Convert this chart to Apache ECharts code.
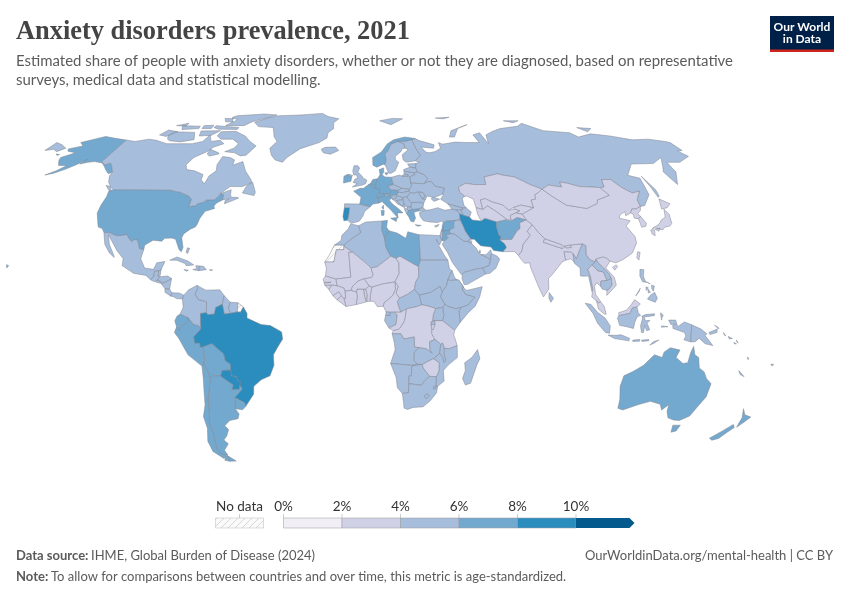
<!DOCTYPE html>
<html>
<head>
<meta charset="utf-8">
<script src="https://cdn.jsdelivr.net/npm/echarts@6/dist/echarts.min.js"></script>
<style>html,body{margin:0;padding:0;background:#fff}#chart{width:850px;height:600px}</style>
</head>
<body>
<div id="chart"></div>
<script>
// values (share of people, %)
const americasNames = ["United States","Canada","Greenland","Mexico","Guatemala","Belize","Honduras","El Salvador","Nicaragua","Costa Rica","Panama","Cuba","Haiti","Dominican Republic","Jamaica","Puerto Rico","Bahamas","Colombia","Venezuela","Guyana","Suriname","Ecuador","Peru","Bolivia","Brazil","Paraguay","Uruguay","Argentina","Chile"];
const americasValues = [6.9,5.4,5.0,4.6,4.6,4.5,4.6,4.5,4.6,4.6,4.5,4.7,4.6,4.8,4.4,5.0,4.5,5.0,5.2,4.5,4.5,6.2,6.3,6.1,8.8,8.3,6.8,6.5,6.4];
const europeNames = ["Portugal","Spain","France","Belgium","Netherlands","Germany","Switzerland","Austria","Italy","Denmark","United Kingdom","Ireland","Norway","Svalbard","Sweden","Finland","Iceland","Estonia","Latvia","Lithuania","Belarus","Poland","Czechia","Slovakia","Hungary","Slovenia","Croatia","Bosnia","Serbia","Montenegro","Albania","North Macedonia","Greece","Bulgaria","Romania","Moldova","Ukraine","Turkey","Cyprus","Russia"];
const europeValues = [8.6,5.5,7.1,6.3,7.0,6.8,6.5,6.2,6.2,6.4,5.9,6.6,7.4,5.0,5.6,5.2,5.5,4.8,4.6,4.6,4.5,4.8,4.7,4.7,4.7,4.8,4.9,5.1,5.0,5.0,5.0,5.1,6.3,4.8,4.6,4.6,4.8,5.5,5.8,4.9];
const asiaNames = ["Georgia","Armenia","Azerbaijan","Iran","Iraq","Syria","Lebanon","Israel","Jordan","Saudi Arabia","Kuwait","Qatar","UAE","Oman","Yemen","Afghanistan","Pakistan","India","Nepal","Bhutan","Bangladesh","Sri Lanka","China","Mongolia","Taiwan","Kazakhstan","Uzbekistan","Turkmenistan","Kyrgyzstan","Tajikistan","North Korea","South Korea","Japan","Myanmar","Thailand","Laos","Cambodia","Vietnam","Malaysia","Indonesia","Philippines","Papua New Guinea"];
const asiaValues = [4.7,4.8,4.5,8.9,5.6,6.4,6.3,5.9,6.1,5.4,5.2,5.1,5.2,5.3,5.2,6.8,3.7,3.4,3.6,3.6,3.9,4.2,3.1,3.4,3.8,3.9,3.7,3.8,3.6,3.7,3.3,3.7,3.2,4.4,3.9,4.2,4.3,3.6,3.9,4.2,4.3,4.4];
const africaNames = ["Morocco","Algeria","Tunisia","Libya","Egypt","Mauritania","Mali","Niger","Chad","Sudan","South Sudan","Eritrea","Ethiopia","Djibouti","Somalia","Kenya","Uganda","Rwanda","Burundi","Tanzania","Central African Republic","Cameroon","Nigeria","Benin","Togo","Ghana","Burkina Faso","Ivory Coast","Liberia","Sierra Leone","Guinea","Guinea-Bissau","Senegal","Gambia","Gabon","Equatorial Guinea","Congo","DR Congo","Angola","Zambia","Malawi","Mozambique","Zimbabwe","Namibia","Botswana","South Africa","Lesotho","Eswatini","Madagascar"];
const africaValues = [5.6,5.4,6.2,6.5,5.3,3.7,3.4,3.5,3.7,5.0,4.6,4.8,4.5,4.7,4.6,4.2,4.3,4.2,3.9,3.8,4.4,3.6,3.4,3.5,3.5,3.6,3.4,3.6,3.7,3.6,3.5,3.5,3.6,3.6,4.4,4.4,3.8,3.7,4.3,4.4,4.3,4.5,3.8,4.9,4.8,5.1,4.7,4.6,4.4];
const oceaniaNames = ["Australia","New Zealand","Solomon Islands","Vanuatu","New Caledonia","Fiji"];
const oceaniaValues = [7.2,7.3,4.4,4.4,4.9,4.4];

const legendTicks = [0,2,4,6,8,10];
const binColors = ["#f1eef6","#d0d1e6","#a6bddb","#74a9cf","#2b8cbe","#045a8d"];

// simplified country outlines, lon,lat
const shapes = {
"United States":["-124.7,48.4 -123,49 -95,49 -94.6,48.8 -92,48.3 -89.5,48 -84.5,46.5 -82.5,45.3 -82.5,42.5 -79,42.8 -79,43.5 -76.5,44 -75,45 -71.5,45 -70,46.5 -69,47.4 -67.8,47 -67.5,45 -70,43.7 -70.7,42.6 -70,41.7 -74,40.6 -75.5,38 -76,35.5 -76.5,34.6 -78.5,33.8 -81,32 -81.4,30.5 -80,26.8 -80.4,25.2 -81.5,25.9 -82.8,28 -84,30 -86,30.4 -89,30.3 -90,29.2 -94,29.6 -97.2,27.7 -97.2,26 -99.2,26.4 -101,29.7 -102.5,29.8 -103.3,29 -104.7,30 -106.5,31.8 -108.2,31.4 -111,31.3 -114.8,32.5 -117.1,32.5 -118.5,34 -120.6,34.6 -122,36.8 -124,40 -124.3,43 -124,46.2",
"-141,69.6 -141,60.3 -137.5,58.9 -135.5,59.7 -133.5,58.5 -130,55.9 -131.5,55.3 -134,56.5 -137,58.2 -140,59.7 -145,60.3 -148,60 -151.5,59.3 -150,61.2 -153,59 -156,57.2 -160,55.5 -163.5,54.8 -160,56.5 -157.5,58.7 -162,58.7 -165,60.8 -166,62 -161,64 -166.5,64.7 -168,65.7 -162,67 -166,68.5 -156.5,71.3 -150,70.5",
"-156,20.3 -155,19.9 -155.7,19","-171,63.5 -168.8,63.3 -169.5,62.9"],
"Canada":["-141,69.6 -135,69 -128,70 -123,69.5 -115,68 -108,68 -100,68 -95,69 -94,72 -90,69 -85,69.5 -81.5,68 -86,66.5 -88,64.5 -93,62 -94.5,59 -92.5,57 -88,56.5 -82.5,55 -82,52.8 -79.5,51.3 -79,54.5 -76.7,56.5 -78,59 -77.5,62.4 -73,62 -70,61 -69.5,58.8 -65,60.3 -61.5,56.5 -57,53 -56,51.8 -60,50.2 -66,50.2 -70,47.3 -65,49 -64.5,47 -63.7,46 -61,46 -60,45.7 -66,43.5 -66.2,44.7 -64.5,45.5 -67.5,45 -67.8,47 -69,47.4 -70,46.5 -71.5,45 -75,45 -76.5,44 -79,43.5 -79,42.8 -82.5,42.5 -82.5,45.3 -84.5,46.5 -89.5,48 -92,48.3 -94.6,48.8 -95,49 -123,49 -125,50 -128,52 -130,54.5 -130,55.9 -133.5,58.5 -135.5,59.7 -137.5,58.9 -141,60.3",
"-123.5,48.4 -125,48.8 -128,50.7 -125.5,50.2","-80,73.7 -72,71.5 -67,69 -62,67 -65,63 -68,62.7 -72,64 -78,64.5 -74,66 -73,68 -78,70 -85,70 -89,71.5 -89,73.5","-118,73.5 -105,73.2 -101,69.8 -108,68.8 -115,69.3 -117,70 -119,71.5","-125,72 -123,74.3 -116,73.5 -120,71.3","-90,76.5 -78,76.5 -75,78.5 -65,81.5 -62,82.5 -72,83.1 -90,82 -92,81 -88,78.5","-96,76.5 -80,75.5 -80,74.6 -92,74.7 -96,75.5","-118,76.5 -106,76.2 -105,75 -115,74.5","-104,76.5 -98,76.7 -97,75 -103,75","-122,76.5 -116,77.7 -115.5,76.3","-102,73.9 -90,74 -93,71.8 -100,71.5","-87,65.5 -81,64 -80.5,63.5 -85,62.6 -87,63.5","-96,80.3 -87,80 -87,78.5 -93,78.5","-59,47.7 -53,46.7 -52.8,48 -55.7,52 -58,50.5"],
"Greenland":["-73,78.2 -68,76 -58,75.5 -54,71 -51,69 -53.5,66 -51,63 -48,61 -43.5,60 -42,62 -36,65.8 -26,68.5 -22,70.5 -22,73 -19,75 -20,78 -17,80 -25,81.5 -30,83.5 -45,82.5 -60,82 -66,80.8"],
"Iceland":["-24,65.5 -22,66.4 -16,66.5 -14,65 -18.5,63.4 -22.5,64"],
"Mexico":["-117.1,32.5 -114.8,32.5 -111,31.3 -108.2,31.4 -106.5,31.8 -104.7,30 -103.3,29 -102.5,29.8 -101,29.7 -99.2,26.4 -97.2,26 -97.8,22.5 -95.5,19 -91.5,18.5 -90.5,21 -87,21.5 -88.2,18.4 -89.2,17.9 -91,17.8 -91,16 -92.2,14.5 -94.5,16.2 -100,17 -105.5,20 -105.5,22.5 -109,25.7 -112.5,29.5 -114.7,31.7 -113,28 -110,24 -109.5,23 -112,24.7 -115,28"],
"Guatemala":["-92.2,14.5 -91,16 -91,17.8 -89.2,17.9 -89.2,15.9 -88.3,15.7 -89.4,14.4 -90.5,13.8"],
"Belize":["-89.2,17.9 -88.2,18.4 -88.3,16.2 -89.2,15.9"],
"Honduras":["-88.3,15.7 -85,16 -83.2,15 -85,14 -87.5,13 -87.7,13.8 -89.4,14.4"],
"El Salvador":["-89.4,14.4 -87.7,13.8 -87.8,13.2 -90,13.7"],
"Nicaragua":["-87.5,13 -85,14 -83.2,15 -83.7,11 -85.7,11.1"],
"Costa Rica":["-85.7,11.1 -83.7,11 -82.6,9.6 -83,8.3 -85.6,9.8"],
"Panama":["-83,8.3 -82.6,9.6 -79.5,9.5 -77.4,8.7 -77.9,7.2 -80.5,7.4 -82,8.2"],
"Cuba":["-85,22 -82,23.2 -77,21.7 -74.2,20.2 -77.5,19.9 -78,20.7 -82,22"],
"Haiti":["-74.4,18.4 -71.7,18 -71.7,19.8 -73.3,19.9 -72.7,18.8"],
"Dominican Republic":["-71.7,18 -68.5,18.4 -69.9,19.7 -71.7,19.8"],
"Jamaica":["-78.3,18.4 -76.3,18.2 -77,17.8"],
"Puerto Rico":["-67.2,18.4 -65.7,18.3 -66.5,18"],
"Bahamas":["-78,26.7 -77,26.5 -77.5,24.5 -78.3,25"],
"Colombia":["-77.4,8.7 -75.5,10.7 -72,12.4 -71.5,11.5 -72.5,9 -71,7 -67.5,6.2 -67.5,2 -70,1.7 -69.9,-4.3 -70.8,-3 -73,-2.5 -75.3,0.1 -78.8,1.4 -77.5,4 -77.9,7.2"],
"Venezuela":["-72,12.4 -68,10.6 -62,10.7 -60,8.5 -60.7,5.2 -63.5,4 -64,1.5 -66.8,1.2 -67.5,2 -67.5,6.2 -71,7 -72.5,9 -71.5,11.5"],
"Guyana":["-60,8.5 -57.3,6 -58,3.5 -57,1.8 -59.8,1.5 -60.7,5.2"],
"Suriname":["-57.3,6 -54,5.8 -54.2,2.3 -57,1.8 -58,3.5"],
"French Guiana":["-54,5.8 -51.6,4.2 -52.8,2.2 -54.2,2.3"],
"Ecuador":["-78.8,1.4 -75.3,0.1 -75.5,-1.5 -78.3,-3.4 -79.3,-4.8 -80.3,-3.4 -81,-1 -80,0.8"],
"Peru":["-80.3,-3.4 -79.3,-4.8 -78.3,-3.4 -75.5,-1.5 -75.3,0.1 -73,-2.5 -70.8,-3 -69.9,-4.3 -73,-7 -72.8,-9.5 -70.5,-9.5 -70.5,-11 -69.5,-11 -69,-12.5 -69,-16 -69.5,-17.5 -70.4,-18.3 -76,-14 -79.5,-7.8 -81.3,-5.5"],
"Bolivia":["-69,-12.5 -69.5,-11 -65.4,-9.7 -60.5,-13.7 -60,-16.3 -58,-17.5 -58,-19.8 -61.8,-20 -62.7,-22.2 -66.3,-21.9 -67.2,-22.8 -68.5,-19.4 -69.5,-17.5 -69,-16"],
"Brazil":["-51.6,4.2 -50,1.7 -50,0 -44,-2.5 -40,-2.9 -35.2,-5.3 -34.8,-8 -37,-11 -39,-14 -39,-18 -41,-22 -45,-23.5 -48.5,-26 -49,-29 -53.4,-33.7 -53.5,-32.3 -57.6,-30.2 -53.8,-27 -54.6,-25.6 -54.3,-24 -55.4,-24 -55.8,-22.3 -58,-22 -58,-19.8 -58,-17.5 -60,-16.3 -60.5,-13.7 -65.4,-9.7 -69.5,-11 -70.5,-11 -70.5,-9.5 -72.8,-9.5 -73,-7 -69.9,-4.3 -70,1.7 -67.5,2 -66.8,1.2 -64,1.5 -63.5,4 -60.7,5.2 -59.8,1.5 -57,1.8 -54.2,2.3 -52.8,2.2"],
"Paraguay":["-58,-19.8 -58,-22 -55.8,-22.3 -55.4,-24 -54.3,-24 -54.6,-25.6 -55,-27.2 -58.5,-27.3 -57.6,-25.5 -60,-24 -62.7,-22.2 -61.8,-20"],
"Uruguay":["-57.6,-30.2 -53.5,-32.3 -53.4,-33.7 -55,-34.9 -58.3,-34.5"],
"Argentina":["-66.3,-21.9 -62.7,-22.2 -60,-24 -57.6,-25.5 -58.5,-27.3 -55,-27.2 -54.6,-25.6 -53.8,-27 -57.6,-30.2 -58.3,-34.5 -57,-36.5 -58,-38.3 -62,-39 -65,-41 -63.7,-42.5 -65.5,-45 -67.5,-46.5 -66,-48 -69,-50.5 -68.4,-52.3 -71.8,-52 -72.5,-50 -72,-47 -71.5,-44 -71.8,-40 -70.5,-36 -69.8,-31 -68.5,-27 -67.2,-22.8","-68.6,-52.7 -65.3,-54.8 -68.6,-54.9"],
"Chile":["-70.4,-18.3 -69.5,-17.5 -68.5,-19.4 -67.2,-22.8 -68.5,-27 -69.8,-31 -70.5,-36 -71.8,-40 -71.5,-44 -72,-47 -72.5,-50 -71.8,-52 -68.4,-52.3 -71,-53.8 -75,-51 -75.5,-47 -73.5,-42 -73.7,-37.5 -71.6,-33 -71,-29 -70.4,-23","-68.6,-52.7 -68.6,-54.9 -71,-54.5 -70,-53.3"],
"Portugal":["-9,42 -6.5,42 -6.9,38.5 -7.4,37.2 -9,37 -9.5,38.7"],
"Spain":["-9,43.5 -1.8,43.4 3.2,42.4 0.5,40.5 -0.3,38.7 -2,36.8 -5.5,36 -7.4,37.2 -6.9,38.5 -6.5,42 -9,42"],
"France":["-1.8,43.4 3.2,42.4 4.5,43.4 7.5,43.8 7,45.9 6,46.3 7.5,47.6 8.2,49 6.2,49.5 4.2,50 2.5,51 0,49.5 -1.7,49.5 -4.8,48.4 -1.2,46","8.6,42 9.5,43 9.4,41.4"],
"Belgium":["2.5,51 4.2,50 6.2,49.5 6,50.8 3.5,51.4"],
"Netherlands":["3.5,51.4 6,50.8 7.1,53.3 4.7,53"],
"Germany":["7.1,53.3 8.5,54.9 9.5,54.9 11,54 14.2,53.9 14.8,51 12.1,50.3 13.8,48.8 13,47.5 9.6,47.5 7.5,47.6 8.2,49 6.2,49.5 6,50.8"],
"Switzerland":["7,45.9 10.4,46.5 10.4,46.9 9.6,47.5 7.5,47.6 6,46.3"],
"Austria":["9.6,47.5 10.4,46.9 13,46.6 16.1,46.9 17,48 17,48.7 15,49 13.8,48.8 13,47.5"],
"Italy":["7.5,43.8 8.8,44.4 10.5,43 12.5,41.4 16,38 15.8,40 18.4,40 16.2,41.8 13.5,43.6 12.3,45 13.7,45.7 13,46.6 10.4,46.5 7,45.9","12.5,38 15.6,38.2 15,36.7","8.3,41 9.7,40.9 9.5,39.1 8.4,39"],
"Denmark":["8.5,54.9 9.5,54.9 10.5,56 10.6,57.7 8.2,57","11,55.7 12.6,55.7 11.9,54.7"],
"United Kingdom":["-5,58.6 -3,58.6 -2,57.6 -3,56 -1.5,55 0,53.5 1.7,52.7 1,51.3 -1,50.7 -5.5,50 -3.1,51.4 -5.2,51.8 -4.3,53.2 -3,53.5 -3.5,54.8 -5,54.8 -5.6,56.5","-7.3,55 -5.6,54.7 -6,54 -7.5,54.3"],
"Ireland":["-7.3,55 -7.5,54.3 -6,54 -6.3,52.3 -10,51.6 -10,54.3 -8.4,55"],
"Norway":["5,58.8 7,58 10.5,59.2 11.5,59 12.3,61 12,63.5 14,65 16,67.8 20.5,69 25,69 29,69.8 31,70.3 25,71 18,69.8 14,68 10,64.3 5,62"],
"Svalbard":["11,79 20,80.3 27,80 18,77"],
"Sweden":["11.5,59 13,55.5 14.3,55.5 16.5,56.5 19,60 17.3,61 17.5,62.5 21,64.5 22,65.8 24,66 23.5,68 20.5,69 16,67.8 14,65 12,63.5 12.3,61"],
"Finland":["24,66 25.3,65.3 21.5,63.2 21.5,61 23,60 28,60.6 31.5,62.9 29.8,66 29,69 29,69.8 25,69 20.5,69 23.5,68"],
"Estonia":["23.5,59.3 28,59.5 27.5,57.6 24.4,58"],
"Latvia":["21,57 24.4,58 27.5,57.6 28,56 26,55.7 21,56.3"],
"Lithuania":["21,56.3 26,55.7 26.5,55 23.5,54 22.8,54.9 21,55.2"],
"Belarus":["26,55.7 28,56 31,55 32.7,53.4 31,52 30.6,51.3 23.6,51.6 23.5,54 26.5,55"],
"Poland":["14.2,53.9 18.5,54.8 19.6,54.4 22.8,54.3 23.5,54 23.6,51.6 24,50.5 22.6,49.1 18.8,49.5 14.8,51"],
"Czechia":["12.1,50.3 14.8,51 18.8,49.5 17,48.7 15,49 13.8,48.8"],
"Slovakia":["17,48 17,48.7 18.8,49.5 22.6,49.1 22.2,48.4 18.8,47.8"],
"Hungary":["16.1,46.9 17,48 18.8,47.8 22.2,48.4 22.9,47.9 21,46.2 18.8,45.9 16.1,46.6"],
"Slovenia":["13.7,45.5 15.5,45.5 16.1,46.6 16.1,46.9 13,46.6 13.7,45.7"],
"Croatia":["13.7,45.3 14.8,44.7 16,43.5 18.5,42.5 17.7,43 15.8,44.8 19,45 18.8,45.9 16.1,46.6 15.5,45.5"],
"Bosnia":["15.8,44.8 17.7,43 18.5,42.5 19.3,43.5 19,45"],
"Serbia":["19,45 19.3,43.5 20,42.8 20.5,42.2 22.4,42.3 22.9,44 22,44.6 21,46.2 18.8,45.9"],
"Montenegro":["18.5,42.5 19.3,41.9 20,42.8 19.3,43.5"],
"Albania":["19.3,41.9 20.5,41.5 21,40.9 21,40.5 20,39.7 19.4,41"],
"North Macedonia":["20.5,41.5 20.5,42.2 22.4,42.3 23,41.3 21,40.9"],
"Greece":["20,39.7 21,40.5 21,40.9 23,41.3 26.3,41.7 26,40.8 23.5,40.2 24,38 23,36.5 21.7,36.8 21,38.4","23.6,35.5 26.3,35.2 24.7,34.9"],
"Bulgaria":["22.4,42.3 23,41.3 26.3,41.7 28,42 28.6,43.7 27,44.1 22.9,44"],
"Romania":["22.9,47.9 24.8,47.7 26.6,48.2 28.2,45.5 29.7,45.2 28.6,43.7 27,44.1 22.9,44 22,44.6 21,46.2"],
"Moldova":["26.6,48.2 29,47.9 30,46.4 28.2,45.5"],
"Ukraine":["23.6,51.6 30.6,51.3 31,52 34,52.3 35.5,50.4 40,49.6 38.3,47.2 35,46.2 33.7,46 36.5,45.3 33.7,44.4 32.5,45.4 33.3,46 30.8,46.5 29.7,45.2 28.2,45.5 30,46.4 29,47.9 26.6,48.2 24.8,47.7 22.9,47.9 22.2,48.4 22.6,49.1 24,50.5"],
"Turkey":["26,40.1 29,41 31.3,41.2 35,42 38,41 41.5,41.5 43.5,41.1 44.7,39.7 44.5,37.3 42.3,37.1 38,36.8 36.5,36.2 35.9,36.9 34,36.3 30.5,36.5 27.5,37 26.3,38.5","26.3,41.7 28,42 29,41.2 26.5,40.6 26,40.8"],
"Cyprus":["32.3,35 34.5,35.6 33.8,34.9 32.8,34.6"],
"Russia":["28,59.5 30,60 28,60.6 31.5,62.9 29.8,66 29,69 29,69.8 31,70.3 33,69.4 41,67.5 40,66 33,66.5 35,64.3 37,64 40.5,64.6 44,66 44,68.5 46,67.8 54,68.7 60,68.5 68,68.5 67,72 72,73 73,68 75,72 80,73.5 87,75 100,76.2 105,77.7 113,74 128,73 130,71 140,72.5 150,71.5 160,69.7 170,70 178,69 180,68.5 180,65 177,64.7 179,62.5 170,60 163,60 162,56 156.5,51 155.5,56 158,58 163,62 155,59.5 143,59.3 135.5,54.7 140.5,53.5 138.5,47 133,42.8 130.7,42.5 131,45 135,48.4 131,47.7 127.5,49.8 125,53 120.5,53 119,50 116.7,49.8 113,50 107,50.2 102,51.5 98.5,52 98,50 92,50.8 87.8,49.2 83,51 77,54 71,54.8 69,55.3 61.5,54 61,51 55,51 51,51.5 47,50 47,48 49,46.4 47.5,45.6 47.5,43 48.5,41.8 46.5,41.9 40,43.5 37,45.3 39,47.2 38.3,47.2 40,49.6 35.5,50.4 34,52.3 31,52 32.7,53.4 31,55 28,56 27.5,57.6","19.6,54.4 21,55.2 22.8,54.9 22.8,54.3","142,54.3 143.5,49 143,46.5 142,46 142,50","52,71 55,74 68,77 60,75 55,71","-180,68.5 -175,67.5 -170,66 -172.5,64.5 -176,65.5 -180,65","137,75.5 145,75 140,73.5","95,79 105,79 100,78","50,80.5 60,81 55,80"],
"Georgia":["40,43.5 46.5,41.9 46.5,41.2 45.5,41.2 43.5,41.1 41.5,41.5"],
"Armenia":["43.5,41.1 45.5,41.2 46.5,39 44.7,39.7"],
"Azerbaijan":["45.5,41.2 46.5,41.2 46.5,41.9 48.5,41.8 50.3,40.3 49,38.4 46.5,39"],
"Iran":["44.7,39.7 46.5,39 49,38.4 50,37.3 54,36.9 56,38 61,36.6 60.5,34.3 60.9,31.5 61.8,30.8 60.9,29.8 62.7,28.3 63.3,27.2 63.2,26.6 61.6,25.2 57.5,25.7 56.5,27 52,27.5 49.5,30 48,30 46,33 45.5,34.5 44.5,37.3"],
"Iraq":["42.3,37.1 44.5,37.3 45.5,34.5 46,33 48,30 47.5,30 46.5,29.1 44.7,29.2 41,31.9 39,32 38.8,33.4 41,34.4 41.3,36.5"],
"Syria":["36.5,36.2 38,36.8 42.3,37.1 41.3,36.5 41,34.4 38.8,33.4 36,32.7 35.8,33 36,33.5 36.5,34.6 35.9,34.6 35.8,35"],
"Lebanon":["35.1,33.1 35.8,33 36,33.5 36.5,34.6 35.9,34.6"],
"Israel":["34.3,31.3 35.1,33.1 35.8,33 35.5,31 35,29.5"],
"Jordan":["35.8,33 36,32.7 38.8,33.4 39,32 37,31.5 38,30.5 36,29.3 35,29.5 35.5,31"],
"Saudi Arabia":["35,28 36,29.3 38,30.5 37,31.5 39,32 41,31.9 44.7,29.2 46.5,29.1 48,28.5 50,26.5 50.8,24.8 51.6,24.2 55,22.7 55.7,22 55,20 52,19 49,18.6 44,17.4 43,16.7 42.5,16.5 39,21 37,25"],
"Kuwait":["46.5,29.1 47.5,30 48.3,29 48,28.5"],
"Qatar":["50.8,24.8 51.5,25.9 51.6,24.8"],
"UAE":["51.6,24.2 54,24.1 56.3,26 56.4,24.5 55.7,22 55,22.7"],
"Oman":["56.4,24.5 58.7,23.6 59.8,22.4 57.8,19 55,17 53,16.7 52,19 55,20 55.7,22"],
"Yemen":["43,16.7 44,17.4 49,18.6 52,19 53,16.7 45,12.8 43.5,12.7 42.7,15"],
"Afghanistan":["60.5,34.3 61,36.6 65,37.3 68,37 71,38.3 74.9,37.3 71.5,36.2 71,34 69.3,33 66.3,29.9 60.9,29.8 61.8,30.8 60.9,31.5"],
"Pakistan":["61.6,25.2 63.2,26.6 63.3,27.2 62.7,28.3 60.9,29.8 66.3,29.9 69.3,33 71,34 71.5,36.2 74.9,37.3 77,35.5 74,33 75,31.5 71,28 70,25.5 68.2,23.8 66.7,25.3"],
"India":["68.2,23.8 70,25.5 71,28 75,31.5 74,33 77,35.5 79,32.5 81,30.2 80.2,28.8 88.1,26.4 88.9,27.3 89.8,26.7 92,26.8 92,27.8 97.4,28.2 95,25 93.5,22.5 92.3,24.5 91.8,25 88.5,25.2 88.7,22 87,21.3 82,16.5 80.2,15 80,11 77.5,8 76,11 73,19 72.7,21 70.5,20.8 69,22.5"],
"Nepal":["81,30.2 88.1,27.9 88.1,26.4 80.2,28.8"],
"Bhutan":["88.9,27.3 92,27.8 92,26.8 89.8,26.7"],
"Bangladesh":["88.5,25.2 91.8,25 92.3,24.5 92.5,21 91,22.5 88.7,22"],
"Sri Lanka":["80,9.7 81.8,7.5 80.6,6 79.8,7.5"],
"China":["74.9,37.3 73.7,39.5 80,42 80.2,45 82.5,45.3 83,47 85.5,48 87.8,49.2 91,46.5 96,43 105,41.7 111,43.6 112,45 116,46 119,46.8 116.7,49.8 119,50 120.5,53 125,53 127.5,49.8 131,47.7 135,48.4 131,45 130.7,42.5 128,41.5 126,41.5 124.4,40 121.5,38.9 122,40.5 119,39.2 118,38 122.5,37 119.5,35 121.8,31 121.6,28.5 118.5,24.7 114,22.3 110.5,21 108,21.6 106.7,22.8 105.3,23.2 102,22.4 101.5,21.3 99.2,22.2 98,24.2 98.7,27.5 97.4,28.2 92,27.8 88.9,27.3 88.1,27.9 81,30.2 79,32.5 77,35.5","108.7,19.3 110.5,20.2 111,19.6 109.5,18.2"],
"Mongolia":["87.8,49.2 92,50.8 98,50 98.5,52 102,51.5 107,50.2 113,50 116.7,49.8 119,46.8 116,46 112,45 111,43.6 105,41.7 96,43 91,46.5"],
"Taiwan":["121,25.2 122,25 120.8,22 120.1,23"],
"Kazakhstan":["47,50 51,51.5 55,51 61,51 61.5,54 69,55.3 71,54.8 77,54 83,51 87.8,49.2 85.5,48 83,47 82.5,45.3 80.2,45 80,42 74.5,43 70.5,42 68,41 66,43 61,44.3 58.5,45.5 56,45 56,41.3 53,42 52.7,45.3 50,46.5 49,46.4 47,48"],
"Uzbekistan":["56,45 58.5,45.5 61,44.3 66,43 68,41 71,41.5 73.2,40.8 71,40 68,39 68,37.3 66,37.5 62,40.5 58.6,42.7 56,41.3"],
"Turkmenistan":["53,42 56,41.3 58.6,42.7 62,40.5 66,37.5 65,37.3 61,36.6 56,38 54,36.9 53,39.5"],
"Kyrgyzstan":["70.5,42 74.5,43 80,42 73.7,39.5 71,40 73.2,40.8 71,41.5"],
"Tajikistan":["68,39 71,40 73.7,39.5 74.9,37.3 71,38.3 68,37 68,37.3"],
"North Korea":["124.4,40 126,41.5 128,41.5 130.7,42.5 129.7,41 127.5,39.7 128.3,38.6 126.7,37.8 125,38 125.3,39.5"],
"South Korea":["126.7,37.8 128.3,38.6 129.4,36 128.5,34.9 126.4,34.5 126.6,36"],
"Japan":["130.9,34 135,35.7 137,37.3 139.5,38.4 141,41.4 142,39.5 141,36 139.5,35 136.8,34.5 135.5,33.5 132.5,34.3","140,41.5 141.8,45.4 145.5,43.5 143,42","130,33.5 131.8,33.6 131,31.3 130,32","132.2,33.8 134.6,34.2 133.5,33"],
"Myanmar":["92.3,20.8 92.5,21 92.3,24.5 93.5,22.5 95,25 97.4,28.2 98.7,27.5 98,24.2 99.2,22.2 101.5,21.3 100,20.3 97.8,18.5 98.5,16 99,11 98.5,10 97.7,16 95.5,15.9 94.2,16 94.5,19"],
"Thailand":["100,20.3 100.5,19.5 102,18 104.5,17.5 105.5,14.3 102.8,14 102.5,12 100.9,13.4 99.8,12 100,9 102,6.2 101,5.7 100.2,6.6 98.3,8 99,11 98.5,16 97.8,18.5"],
"Laos":["101.5,21.3 102,22.4 103,20.8 104.8,19 106.7,16.9 107.5,15 105.5,14.3 104.5,17.5 102,18 100.5,19.5 100,20.3"],
"Cambodia":["102.8,14 105.5,14.3 107.5,15 107.5,12.5 106,11 105,10.5 103,11 102.5,12"],
"Vietnam":["102,22.4 105.3,23.2 106.7,22.8 108,21.6 105.7,19 108.8,15.5 109.3,12.5 107,10.5 104.8,8.6 105,10.5 106,11 107.5,12.5 107.5,15 106.7,16.9 104.8,19 103,20.8"],
"Malaysia":["100.2,6.6 101,5.7 102,6.2 103.4,4.5 104.2,1.4 103.4,1.5 101,3.3","109.6,2 111.3,2.5 113,3 115,5 116.7,7 119,5.3 117.5,4.2 115.5,3.8 114.5,1.8 112,1.3 109.6,0.9"],
"Indonesia":["109.6,0.9 112,1.3 114.5,1.8 115.5,3.8 117.5,4.2 118,2 119,1 117.5,0.5 116.5,-1.5 116,-4 113,-3.3 110,-2.8 109,0","95.3,5.6 97.7,5.2 100.5,2.2 103.7,0 106,-3 105.8,-5.8 104,-5.5 100.5,-2 98.6,1.7","105.2,-6.5 108.5,-6.6 110.8,-6.4 114.5,-7.7 114.4,-8.7 108,-7.8","119.5,0.7 121,1.3 125,1.6 124.8,0.9 120.5,0.4 121,-1 123,-0.9 121.8,-2 123,-4.5 121.6,-4.8 120.8,-2.8 120.4,-5.5 119.5,-5.5 119,-3 119.8,0","116,-8.4 119,-8.2 119,-8.8 116,-8.9","119.8,-8.4 123,-8.2 122.8,-8.7 120,-8.9","123.5,-10.3 124.9,-9 127.2,-8.4 125.2,-9.6","128,-3 130.8,-3.3 128,-3.5","127.6,2 128.7,1 128,0 128,-0.8 127.6,1","131,-0.8 134,-0.8 135,-3.3 137.8,-1.5 141,-2.6 141,-9.1 138,-8.3 138.7,-6.8 138,-5.5 133,-4 132.8,-2.8 134,-2.3 132,-2.5"],
"Papua New Guinea":["141,-2.6 145,-4.2 147.7,-6 147,-6.7 150.7,-10.5 147.3,-9.8 144.5,-7.7 143,-9 141,-9.1","148.5,-5.5 152,-4.2 152,-5.5 149,-6.3","154.7,-5.5 155.9,-6.8 155.2,-6.5","150.8,-2.7 152.7,-3.8 152.5,-4.2"],
"Solomon Islands":["157,-7 158.8,-7.8 157.5,-8","159.6,-9.3 160.8,-9.8 160,-9.9","160.6,-8.4 161.5,-9.5 161,-9.2"],
"Vanuatu":["166.6,-14.8 167.2,-15.8 166.6,-15.6"],
"New Caledonia":["164,-20 167,-22.3 165,-21.5"],
"Fiji":["177.3,-17.5 178.6,-17.7 178,-18.3"],
"Philippines":["120.5,18.5 122.2,18.4 121.5,16 122,14 124,13 123,13.5 120.8,13.8 120,16","122.2,7.2 123.5,8.6 125.5,9.8 126.5,7.5 125.5,6 124,6.5","124.5,12.5 125.7,12.2 125,10.2 124.5,11","122.8,11 123.7,9.8 122.7,9.6","117.3,8.4 119.5,11.3 118.8,10","122,11.8 123,11.5 122,10.5"],
"Australia":["114.2,-22 113.5,-26 115,-31 115.5,-34.3 118,-35 124,-33 129,-31.7 134,-32.8 135.7,-35 138,-33 138.5,-35.5 140.5,-38 143.5,-38.8 146.4,-39 150,-37.3 151.5,-33.5 153.2,-30 153.3,-25 150.7,-23 149,-20.5 146.5,-19 145.3,-15 143.5,-14 142.5,-10.8 141.6,-13 141,-17 139,-17.3 135.5,-15 136.8,-12.2 132.5,-11.3 130,-13 129.5,-15 126,-14 122,-18 118,-20.3","144.7,-40.8 148.2,-40.8 148,-43 146,-43.5"],
"New Zealand":["172.7,-40.5 174.3,-41.7 172.7,-43.5 171,-45.9 168.5,-46.6 166.5,-45.8 170,-43","172.7,-34.5 175,-36.8 178.5,-37.7 177,-39.5 175.3,-41.6 174.8,-39.8 174.7,-38"],
"Morocco":["-5.9,35.8 -2.2,35.1 -1.2,32.5 -5,30.3 -8.7,27.7 -13,27.7 -10,29.5 -9.7,31.5 -6.8,34"],
"Algeria":["-2.2,35.1 1,36.5 8.6,36.9 8.3,33.5 9.5,30.2 9.9,27 12,23.5 6,19.5 3.3,19 1.2,20.8 -4.8,25 -8.7,27.3 -8.7,27.7 -5,30.3 -1.2,32.5"],
"Tunisia":["8.6,36.9 11,37.2 10.5,34.5 11.5,33.2 9.5,30.2 8.3,33.5"],
"Libya":["11.5,33.2 15.2,32.3 19,30.3 20,32.8 25,31.7 25,22 24,19.5 16,23.5 14.2,22.6 12,23.5 9.9,27 9.5,30.2"],
"Egypt":["25,31.7 31,31.5 34.3,31.3 34.9,29.5 33.8,27.8 32.5,30 33.5,27.5 35.5,24 37,22 25,22"],
"Western Sahara":["-13,27.7 -8.7,27.7 -8.7,26 -12,26 -13,21.3 -17,21.3 -15,24"],
"Mauritania":["-8.7,27.3 -4.8,25 -6.5,25 -5.5,15.5 -12,14.8 -16.5,16 -16.2,19 -17,21.3 -13,21.3 -12,26 -8.7,26"],
"Mali":["-4.8,25 1.2,20.8 3.3,19 4.2,16.5 3.5,15.4 0.3,14.9 -2,14.2 -3,13.6 -4.7,12 -5.5,10.5 -8,10.2 -8.5,11.4 -11.5,12.3 -12,14.8 -5.5,15.5 -6.5,25"],
"Niger":["3.3,19 6,19.5 12,23.5 14.2,22.6 15.5,21 15.5,16.9 13.6,13.7 8.5,13 3.6,11.7 2.4,12.2 0.3,14.9 3.5,15.4 4.2,16.5"],
"Chad":["14.2,22.6 16,23.5 24,19.5 24,15.7 22.5,13.5 22,10.9 19,9 15.5,7.5 14,9.5 15,12 13.6,13.7 15.5,16.9 15.5,21"],
"Sudan":["24,19.5 25,22 37,22 37.5,18.7 38.6,18 36.5,14.5 36,12.5 34,10 33,12 29,9.7 24,8.7 22,10.9 22.5,13.5 24,15.7"],
"South Sudan":["24,8.7 29,9.7 33,12 34,10 33.2,8 35,5.3 34,4 31,3.6 28,4.5 25,5"],
"Eritrea":["36.5,14.5 38.6,18 39.5,15.5 42.7,12.5 41.2,14.5 37.5,14.3"],
"Ethiopia":["36.5,14.5 37.5,14.3 41.2,14.5 42.7,12.5 43.2,11.5 42.6,11 44,9 48,8 45,5 42,4 39.5,3.5 36,4.5 35,5.3 33.2,8 34,10 36,12.5"],
"Djibouti":["42.7,12.5 43.3,12 43.2,11.5 42.6,11"],
"Somalia":["43.2,11.5 44.5,10.5 48,11.2 51.3,11.9 50,8 48,4.5 45,2 41.5,-1.7 41,2.8 42,4 45,5 48,8 44,9 42.6,11"],
"Kenya":["34,4 35,5.3 36,4.5 39.5,3.5 42,4 41,2.8 41.5,-1.7 39.2,-4.7 33.9,-1 34.5,1"],
"Uganda":["31,3.6 34,4 34.5,1 33.9,-1 30.5,-1 29.6,-1.4 30,1.5"],
"Rwanda":["29,-1.4 30.5,-1 30.8,-2.4 29,-2.7"],
"Burundi":["29,-2.7 30.8,-2.4 30,-4.4 29.3,-4.4"],
"Tanzania":["30.5,-1 33.9,-1 39.2,-4.7 38.8,-6.5 39.5,-8 40.4,-10.5 37,-11.7 34.9,-11.5 34,-9.5 33.3,-10 32,-9 30.7,-8.2 29.3,-6 29.3,-4.4 30,-4.4 30.8,-2.4"],
"Central African Republic":["14.5,6.3 15.5,7.5 19,9 22,10.9 24,8.7 25,5 22.5,4.2 19,3.6 18.5,3.5 16,2.2 15,4.5"],
"Cameroon":["8.5,4.5 9.7,2.3 11.3,2.2 16,2.2 15,4.5 14.5,6.3 15.5,7.5 14,9.5 15,12 13.6,13.7 13.8,11 12.5,8.5 10.5,7 8.8,5.8"],
"Nigeria":["2.7,6.4 3,9 3.6,11.7 8.5,13 13.6,13.7 13.8,11 12.5,8.5 10.5,7 8.8,5.8 8.5,4.5 6,4.3 4.5,6.3"],
"Benin":["1.6,6.2 2.7,6.4 3,9 3.6,11.7 2.4,12.2 0.9,11 1.5,9"],
"Togo":["1.2,6.1 1.6,6.2 1.5,9 0.9,11 0,11 0.5,8"],
"Ghana":["-3.1,5.1 1.2,6.1 0.5,8 0,11 -2.8,11 -3,9.9 -2.7,8"],
"Burkina Faso":["-5.5,10.5 -4.7,12 -3,13.6 -2,14.2 0.3,14.9 2.4,12.2 0.9,11 0,11 -2.8,11 -3,9.9"],
"Ivory Coast":["-7.5,4.4 -3.1,5.1 -2.7,8 -3,9.9 -5.5,10.5 -8,10.2 -7.7,7.5 -8.5,7.5"],
"Liberia":["-11.4,6.9 -7.5,4.4 -8.5,7.5 -9.5,8.5"],
"Sierra Leone":["-13.2,8.5 -11.4,6.9 -9.5,8.5 -10.7,10"],
"Guinea":["-15,10.9 -13.2,8.5 -10.7,10 -9.5,8.5 -8.5,7.5 -7.7,7.5 -8,10.2 -8.5,11.4 -11.5,12.3 -13.7,12.6"],
"Guinea-Bissau":["-16.7,12.4 -15,10.9 -13.7,12.6"],
"Senegal":["-16.5,16 -12,14.8 -11.5,12.3 -13.7,12.6 -16.7,12.4 -17.5,14.7"],
"Gambia":["-16.8,13.6 -14,13.6 -14,13.3 -16.8,13.2"],
"Gabon":["9.5,1 11.3,1 11.3,2.2 13.3,2.2 14.5,1.2 14,-2.5 11.6,-3.5 11,-3.9 9,-1"],
"Equatorial Guinea":["9.7,2.3 11.3,2.2 11.3,1 9.5,1"],
"Congo":["14.5,1.2 13.3,2.2 16,2.2 18.5,3.5 17.7,-1 16,-3.5 15,-4.3 12.8,-4.8 11,-3.9 11.6,-3.5 14,-2.5"],
"DR Congo":["18.5,3.5 19,3.6 22.5,4.2 25,5 28,4.5 31,3.6 30,1.5 29.6,-1.4 29,-1.4 29,-2.7 29.3,-4.4 29.3,-6 30.7,-8.2 28.5,-9 28.7,-12 29.8,-13.4 27,-11.7 24,-11.3 22,-11 21.8,-7.2 17.5,-8 16,-6 12.3,-6 12.8,-4.8 15,-4.3 16,-3.5 17.7,-1"],
"Angola":["12.3,-6 16,-6 17.5,-8 21.8,-7.2 22,-11 24,-11.3 22,-13 22,-16.2 23.5,-17.5 21,-18 13.5,-17.4 11.8,-17.3 13.7,-12 13.2,-9"],
"Zambia":["22,-13 24,-11.3 27,-11.7 29.8,-13.4 28.7,-12 28.5,-9 30.7,-8.2 32,-9 33.3,-10 33,-13.5 30.3,-15.5 28,-16.5 25.5,-17.8 23.5,-17.5 22,-16.2"],
"Malawi":["33.3,-10 34,-9.5 34.9,-11.5 35,-14 35.8,-16 35,-17 34.3,-15 33,-13.5"],
"Mozambique":["34.9,-11.5 37,-11.7 40.4,-10.5 40.7,-15 37,-17.8 34.9,-20 35.5,-24 32.8,-26 32,-26 32,-22.3 33,-20 32.9,-17 30.3,-15.5 33,-13.5 34.3,-15 35,-17 35.8,-16 35,-14"],
"Zimbabwe":["25.5,-17.8 28,-16.5 30.3,-15.5 32.9,-17 33,-20 32,-22.3 29,-22.2 26,-19"],
"Namibia":["11.8,-17.3 13.5,-17.4 21,-18 25,-17.6 21,-18.3 21,-22 20,-22 20,-28.5 17.3,-28.7 15,-26.5 14.3,-22.5"],
"Botswana":["21,-18.3 25,-17.6 25.5,-17.8 26,-19 29,-22.2 27,-23.8 25.5,-25.6 23,-25.3 20,-25 20,-22 21,-22"],
"South Africa":["17.3,-28.7 20,-28.5 20,-25 23,-25.3 25.5,-25.6 27,-23.8 29,-22.2 32,-22.3 32,-26 32.8,-26 32.5,-28.5 30,-31.5 27,-33.8 22.5,-34 20,-34.8 18.4,-34.2 18,-32"],
"Lesotho":["27,-29.7 28.5,-28.7 29.4,-29.7 28,-30.7"],
"Eswatini":["31,-26 32,-26 32,-27 31,-27"],
"Madagascar":["49.3,-12 50.5,-15.5 49.5,-17.5 47.2,-24.8 45,-25.5 43.5,-23 44.5,-20 44,-17 47,-15"]
};

// Robinson table, every 5 degrees of latitude
const plen = [1,.9986,.9954,.99,.9822,.973,.96,.9427,.9216,.8962,.8679,.835,.7986,.7597,.7186,.6732,.6213,.5722,.5322];
const pdfe = [0,.062,.124,.186,.248,.31,.372,.434,.4958,.5571,.6176,.6769,.7346,.7903,.8435,.8936,.9394,.9761,1];
const lon0X = 363.5, equatorY = 318, xScale = 2.33, yScale = 212;

function lookup(table, lat) {
  const a = Math.min(Math.abs(lat), 89.99) / 5;
  const i = Math.floor(a);
  return table[i] + (table[i + 1] - table[i]) * (a - i);
}
function project(p) {
  return [
    lon0X + p[0] * xScale * lookup(plen, p[1]),
    equatorY - Math.sign(p[1]) * yScale * lookup(pdfe, p[1]),
  ];
}
function unproject(p) {
  let lo = -90, hi = 90;
  for (let i = 0; i < 30; i++) {
    const mid = (lo + hi) / 2;
    if (project([0, mid])[1] > p[1]) lo = mid; else hi = mid;
  }
  const lat = (lo + hi) / 2;
  return [(p[0] - lon0X) / (xScale * lookup(plen, lat)), lat];
}

let box = [Infinity, Infinity, -Infinity, -Infinity];
const features = Object.keys(shapes).map((name) => {
  const rings = shapes[name].map((s) => {
    const ring = s.split(" ").map((c) => c.split(",").map(Number));
    ring.forEach((c) => {
      const q = project(c);
      box = [Math.min(box[0], q[0]), Math.min(box[1], q[1]), Math.max(box[2], q[0]), Math.max(box[3], q[1])];
    });
    ring.push(ring[0]);
    return [ring];
  });
  return { type: "Feature", properties: { name }, geometry: { type: "MultiPolygon", coordinates: rings } };
});
echarts.registerMap("world", { type: "FeatureCollection", features });

// hatch for no data
const hatch = document.createElement("canvas");
hatch.width = 7;
hatch.height = 7;
const hc = hatch.getContext("2d");
hc.fillStyle = "#fafafa";
hc.fillRect(0, 0, 7, 7);
hc.strokeStyle = "#d8d8d8";
hc.lineWidth = 1;
hc.beginPath();
hc.moveTo(-1, 8); hc.lineTo(8, -1);
hc.moveTo(-1, 1); hc.lineTo(1, -1);
hc.moveTo(6, 8); hc.lineTo(8, 6);
hc.stroke();
const hatchFill = { image: hatch, repeat: "repeat" };

const names = [...americasNames, ...europeNames, ...asiaNames, ...africaNames, ...oceaniaNames];
const values = [...americasValues, ...europeValues, ...asiaValues, ...africaValues, ...oceaniaValues];
const seriesData = names.map((name, i) => ({ name, value: values[i] }));

const textColor = "#5b5b5b";
const font = "Lato, sans-serif";
const legendX = (v) => 283.5 + v * 29.25;
const barTop = 518, barH = 10;

function text(x, y, str, size, extra) {
  return { type: "text", x, y, style: Object.assign({ text: str, font: size + "px " + font, fill: textColor, textVerticalAlign: "middle" }, extra) };
}

const graphics = [
  text(16, 32, "Anxiety disorders prevalence, 2021", 26.4, { font: "bold 26.4px 'Liberation Serif', serif", fill: "#444" }),
  text(16, 61, "Estimated share of people with anxiety disorders, whether or not they are diagnosed, based on representative", 14.96),
  text(16, 80, "surveys, medical data and statistical modelling.", 14.96),
  { type: "rect", shape: { x: 770, y: 16, width: 64, height: 36 }, style: { fill: "#002147" } },
  { type: "rect", shape: { x: 770, y: 49.5, width: 64, height: 2.5 }, style: { fill: "#ce261e" } },
  text(802, 27, "Our World", 12, { fill: "#fff", textAlign: "center", font: "bold 12px " + font }),
  text(802, 39, "in Data", 12, { fill: "#fff", textAlign: "center", font: "bold 12px " + font }),
  text(239.5, 507, "No data", 13.5, { textAlign: "center", fill: "#333" }),
  { type: "rect", shape: { x: 215.5, y: barTop, width: 48, height: barH }, style: { fill: hatchFill, stroke: "#bbb", lineWidth: 0.5 } },
  { type: "line", shape: { x1: 239.5, y1: 514, x2: 239.5, y2: barTop }, style: { stroke: "#999", lineWidth: 0.5 } },
];

binColors.forEach((color, i) => {
  const x1 = legendX(i * 2), x2 = legendX(i * 2 + 2);
  if (i < binColors.length - 1) {
    graphics.push({ type: "rect", shape: { x: x1, y: barTop, width: x2 - x1, height: barH }, style: { fill: color, stroke: "#999", lineWidth: 0.5 } });
  } else {
    graphics.push({ type: "polygon", shape: { points: [[x1, barTop], [x2 - 5, barTop], [x2, barTop + barH / 2], [x2 - 5, barTop + barH], [x1, barTop + barH]] }, style: { fill: color } });
  }
});
legendTicks.forEach((t) => {
  graphics.push(text(legendX(t), 507, t + "%", 13.5, { textAlign: "center", fill: "#333" }));
  graphics.push({ type: "line", shape: { x1: legendX(t), y1: 514, x2: legendX(t), y2: barTop }, style: { stroke: "#999", lineWidth: 0.5 } });
});

graphics.push(
  { type: "text", x: 16, y: 556, style: { text: "Data source:", font: "bold 13px " + font, fill: textColor, textVerticalAlign: "middle" } },
  text(91, 556, "IHME, Global Burden of Disease (2024)", 13),
  text(833, 556, "OurWorldinData.org/mental-health | CC BY", 13, { textAlign: "right" }),
  { type: "text", x: 16, y: 577, style: { text: "Note:", font: "bold 13px " + font, fill: textColor, textVerticalAlign: "middle" } },
  text(51, 577, "To allow for comparisons between countries and over time, this metric is age-standardized.", 13)
);

const chart = echarts.init(document.getElementById("chart"));
chart.setOption({
  animation: false,
  graphic: graphics,
  visualMap: {
    show: false,
    type: "piecewise",
    dimension: 0,
    pieces: binColors.map((color, i) => ({ min: i * 2, max: i === 5 ? 100 : i * 2 + 2, color })),
  },
  series: [
    {
      type: "map",
      map: "world",
      projection: { project, unproject },
      left: box[0],
      top: box[1],
      width: box[2] - box[0],
      height: box[3] - box[1],
      roam: false,
      silent: true,
      selectedMode: false,
      label: { show: false },
      emphasis: { disabled: true },
      itemStyle: { areaColor: hatchFill, borderColor: "#808590", borderWidth: 0.5 },
      data: seriesData,
    },
  ],
});
</script>
</body>
</html>
